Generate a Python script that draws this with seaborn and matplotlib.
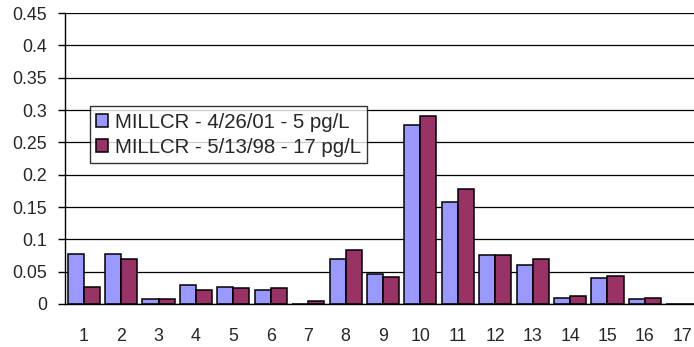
import matplotlib
matplotlib.use("Agg")
import matplotlib.pyplot as plt
import seaborn as sns
import pandas as pd
import numpy as np

categories = [str(i) for i in range(1, 18)]
series_names = ["MILLCR - 4/26/01 - 5 pg/L", "MILLCR - 5/13/98 - 17 pg/L"]
values_2001 = [0.077, 0.077, 0.007, 0.029, 0.027, 0.022, 0.0, 0.069, 0.046,
               0.277, 0.158, 0.076, 0.061, 0.010, 0.040, 0.007, 0.0]
values_1998 = [0.027, 0.069, 0.007, 0.022, 0.024, 0.024, 0.005, 0.083, 0.042,
               0.291, 0.178, 0.076, 0.069, 0.012, 0.044, 0.010, 0.0]
colors = ["#9999FF", "#993366"]
yticks = [0, 0.05, 0.1, 0.15, 0.2, 0.25, 0.3, 0.35, 0.4, 0.45]
ytick_labels = ["0", "0.05", "0.1", "0.15", "0.2", "0.25", "0.3", "0.35", "0.4", "0.45"]

df = pd.DataFrame({
    "cat": categories * 2,
    "value": values_2001 + values_1998,
    "series": [series_names[0]] * 17 + [series_names[1]] * 17,
})

sns.set_style("white")
plt.rcParams["font.family"] = ["Liberation Sans", "DejaVu Sans"]

fig = plt.figure(figsize=(6.94, 3.47), dpi=100)
ax = fig.add_axes([65 / 694, 43 / 347, 636 / 694, 291 / 347])

sns.barplot(data=df, x="cat", y="value", hue="series", order=categories,
            hue_order=series_names, palette=colors, edgecolor="black",
            linewidth=1.1, width=0.86, ax=ax, saturation=1)

ax.set_ylim(0, 0.45)
ax.set_xlim(-0.5, 16.5)
ax.set_yticks(yticks)
ax.set_yticklabels(ytick_labels)
ax.yaxis.grid(True, color="black", linewidth=0.9)
ax.set_axisbelow(True)
for s in ["top", "right"]:
    ax.spines[s].set_visible(False)
for s in ["left", "bottom"]:
    ax.spines[s].set_color("black")
    ax.spines[s].set_linewidth(1.0)

ax.set_xlabel("")
ax.set_ylabel("")
ax.tick_params(axis="x", which="major", length=0, pad=17, labelsize=12.8)
ax.set_xticks(np.arange(-0.5, 17, 1.0), minor=True)
ax.tick_params(axis="x", which="minor", length=5, width=1, color="black", direction="out")
ax.tick_params(axis="y", length=5, width=1, color="black", direction="out", pad=8, labelsize=12.8, left=True)

leg = ax.legend(loc="upper left", bbox_to_anchor=(0.039, 0.680), borderaxespad=0,
                fontsize=14.7, frameon=True, fancybox=False, edgecolor="black",
                handlelength=0.55, handleheight=0.6, handletextpad=0.35,
                borderpad=0.32, labelspacing=0.3)
leg.get_frame().set_linewidth(1.0)

fig.savefig("out.png", dpi=100)
